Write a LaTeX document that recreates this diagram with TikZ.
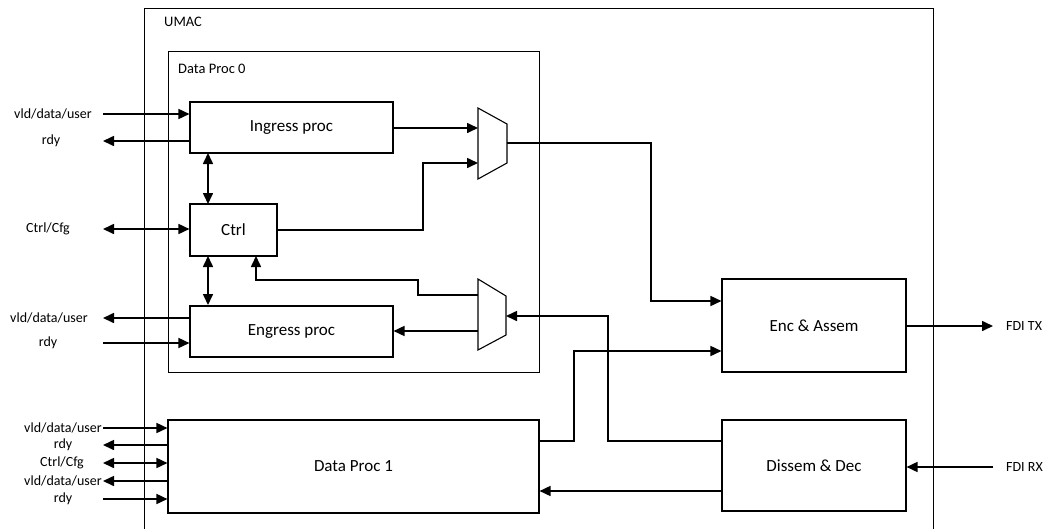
\documentclass[tikz,border=0pt]{standalone}
\usepackage{fontspec}
\setmainfont{Carlito}
\usetikzlibrary{arrows.meta,calc}

\begin{document}
\begin{tikzpicture}[x=1pt,y=-1pt,
  frame/.style={draw, line width=1.1pt, inner sep=0pt},
  block/.style={draw, line width=1.1pt, inner sep=0pt, font=\fontsize{17}{20}\selectfont},
  title/.style={anchor=west, inner sep=0pt, font=\fontsize{14.5}{17}\selectfont},
  sig/.style={inner sep=0pt, font=\fontsize{14}{16}\selectfont},
  wire/.style={line width=1.6pt, -{Triangle[length=11pt,width=10pt]}},
  biwire/.style={line width=1.6pt, {Triangle[length=11pt,width=10pt]}-{Triangle[length=11pt,width=10pt]}},
  muxshape/.style={line width=1.1pt, line join=miter}
]
\useasboundingbox (0,0) rectangle (1047,528);
\clip (0,0) rectangle (1047,528);

% outer UMAC frame (runs past the lower page edge)
\node[frame, minimum width=789pt, minimum height=540pt, anchor=north west] (umac) at (144,8) {};
\node[title] (umacT) at (164,22) {UMAC};

% Data Proc 0 group
\node[frame, minimum width=371pt, minimum height=321pt, anchor=north west] (dp0) at (168,51) {};
\node[title] (dp0T) at (178,69) {Data Proc 0};

% processing blocks
\node[block, minimum width=203pt, minimum height=51pt] (ingress) at (291.5,127.5) {Ingress proc};
\node[block, minimum width=87pt, minimum height=52pt] (ctrl) at (233.5,230) {Ctrl};
\node[block, minimum width=203pt, minimum height=51pt] (engress) at (291.5,331.5) {Engress proc};
\node[block, minimum width=184pt, minimum height=93pt] (enc) at (814,325.5) {Enc \& Assem};
\node[block, minimum width=184pt, minimum height=91pt] (dis) at (814,465.5) {Dissem \& Dec};
\node[block, minimum width=371pt, minimum height=93pt] (dp1) at (353.5,466.5) {Data Proc 1};

% multiplexers
\draw[muxshape] (478,108) -- (507,124) -- (507,163) -- (478,179) -- cycle;
\coordinate (muxAin1) at (478,128);
\coordinate (muxAin2) at (478,163);
\coordinate (muxAout) at (507,143);
\draw[muxshape] (478,279) -- (506,296) -- (506,335) -- (478,350) -- cycle;
\coordinate (muxBin) at (506,316);
\coordinate (muxBout1) at (478,295);
\coordinate (muxBout2) at (478,331);

% Data Proc 0 external ports
\coordinate (a1) at (103,114);
\coordinate (a2) at (103,141);
\coordinate (a3) at (103,229);
\coordinate (a4) at (103,318);
\coordinate (a5) at (103,343);
\node[sig] (la1) at (53,114) {vld/data/user};
\node[sig] (la2) at (51,141) {rdy};
\node[sig] (la3) at (48,229) {Ctrl/Cfg};
\node[sig] (la4) at (49,318) {vld/data/user};
\node[sig] (la5) at (48,343) {rdy};
\draw[wire] (a1) -- (a1 -| ingress.west);
\draw[wire] (a2 -| ingress.west) -- (a2);
\draw[biwire] (a3) -- (a3 -| ctrl.west);
\draw[wire] (a4 -| engress.west) -- (a4);
\draw[wire] (a5) -- (a5 -| engress.west);

% Data Proc 1 external ports
\coordinate (b1) at (103,428);
\coordinate (b2) at (103,445);
\coordinate (b3) at (103,463);
\coordinate (b4) at (103,481);
\coordinate (b5) at (103,499);
\node[sig] (lb1) at (63,428) {vld/data/user};
\node[sig] (lb2) at (63,445) {rdy};
\node[sig] (lb3) at (62,463) {Ctrl/Cfg};
\node[sig] (lb4) at (63,481) {vld/data/user};
\node[sig] (lb5) at (63,499) {rdy};
\draw[wire] (b1) -- (b1 -| dp1.west);
\draw[wire] (b2 -| dp1.west) -- (b2);
\draw[biwire] (b3) -- (b3 -| dp1.west);
\draw[wire] (b4 -| dp1.west) -- (b4);
\draw[wire] (b5) -- (b5 -| dp1.west);

% control links inside Data Proc 0
\draw[biwire] (208,153) -- (208,204);
\draw[biwire] (208,256) -- (208,305);

% data paths
\draw[wire] (ingress.east |- muxAin1) -- (muxAin1);
\draw[wire] (ctrl.east) -- (423,230) -- (423,163) -- (muxAin2);
\draw[wire] (muxAout) -- (651,143) -- (651,301) -- (enc.west |- 0,301);
\draw[wire] (dis.west |- 0,441) -- (608,441) -- (608,316) -- (muxBin);
\draw[wire] (muxBout1) -- (418,295) -- (418,280) -- (256,280) -- (256,256);
\draw[wire] (muxBout2) -- (engress.east |- muxBout2);
\draw[wire] (dp1.east |- 0,441) -- (574,441) -- (574,351) -- (enc.west |- 0,351);
\draw[wire] (dis.west |- 0,491) -- (dp1.east |- 0,491);

% FDI interface
\coordinate (tx) at (993,326);
\coordinate (rx) at (993,467);
\draw[wire] (enc.east |- tx) -- (tx);
\draw[wire] (rx) -- (dis.east |- rx);
\node[sig, anchor=west] (ltx) at (1006,326) {FDI TX};
\node[sig, anchor=west] (lrx) at (1006,467) {FDI RX};
\end{tikzpicture}
\end{document}
